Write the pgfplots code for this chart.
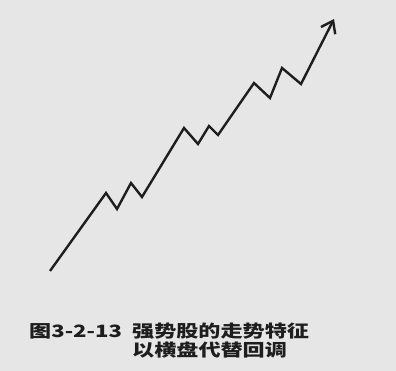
\documentclass[border=0pt]{standalone}
\usepackage{pgfplots}
\pgfplotsset{compat=1.18}
\usepackage{fontspec}
\usetikzlibrary{arrows.meta}
\newfontfamily\cjk{Noto Sans CJK SC}[FakeStretch=1.3]
\definecolor{bg}{HTML}{E6E6E6}
\definecolor{ink}{HTML}{1E1E1E}
\begin{document}
\begin{tikzpicture}
\begin{axis}[
  scale only axis, width=396bp, height=371bp,
  xmin=0, xmax=396, ymin=0, ymax=371,
  hide axis, clip=false,
  axis background/.style={fill=bg},
]
\addplot[ink, line width=2.4pt, line join=miter, -{Straight Barb[length=11bp,width=16bp,line width=2.4pt]}] coordinates {
  (50,100) (106,178) (117,162) (131,188) (142,174) (184,243) (198,227) (209,245) (218,236) (254,288) (270,273) (282,303) (301,287) (334,352)
};
\node[anchor=base west, font=\cjk\bfseries\fontsize{17bp}{20bp}\selectfont, text=ink, inner sep=0pt] at (axis cs:29,33) {图3-2-13\ \ 强势股的走势特征};
\node[anchor=base west, font=\cjk\bfseries\fontsize{17bp}{20bp}\selectfont, text=ink, inner sep=0pt] at (axis cs:132,15) {以横盘代替回调};
\end{axis}
\end{tikzpicture}
\end{document}
